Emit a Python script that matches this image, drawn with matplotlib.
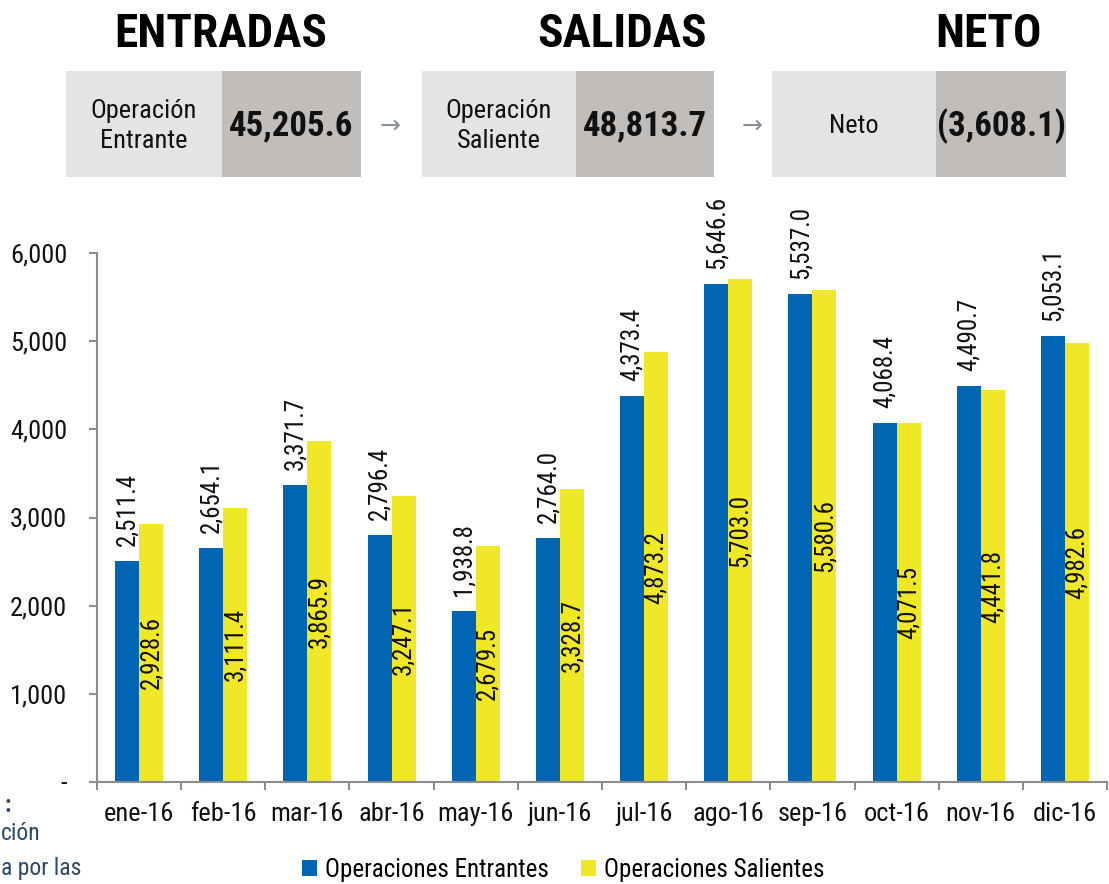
import matplotlib
matplotlib.use("Agg")
import matplotlib.pyplot as plt
from matplotlib.patches import Rectangle
from matplotlib import font_manager as fm
import numpy as np

_avail = set(f.name for f in fm.fontManager.ttflist)
_cands = ['Arial Narrow', 'Liberation Sans Narrow', 'Roboto Condensed', 'Archivo Narrow',
          'PT Sans Narrow', 'Asap Condensed', 'Liberation Sans']
FONT = next((c for c in _cands if c in _avail), 'DejaVu Sans')
plt.rcParams['font.family'] = [FONT, 'DejaVu Sans']

months = ['ene-16', 'feb-16', 'mar-16', 'abr-16', 'may-16', 'jun-16',
          'jul-16', 'ago-16', 'sep-16', 'oct-16', 'nov-16', 'dic-16']
entrantes = [2511.4, 2654.1, 3371.7, 2796.4, 1938.8, 2764.0,
             4373.4, 5646.6, 5537.0, 4068.4, 4490.7, 5053.1]
salientes = [2928.6, 3111.4, 3865.9, 3247.1, 2679.5, 3328.7,
             4873.2, 5703.0, 5580.6, 4071.5, 4441.8, 4982.6]
yticks = [0, 1000, 2000, 3000, 4000, 5000, 6000]
ytick_labels = ['-', '1,000', '2,000', '3,000', '4,000', '5,000', '6,000']

header_titles = ['ENTRADAS', 'SALIDAS', 'NETO']
header_labels = ['Operación\nEntrante', 'Operación\nSaliente', 'Neto']
header_values = ['45,205.6', '48,813.7', '(3,608.1)']
series_names = ['Operaciones Entrantes', 'Operaciones Salientes']

BLUE = '#0066B3'
YELLOW = '#F0E826'
LIGHT = '#E4E4E6'
DARK = '#C1BDBA'
AXC = '#8C8C8C'
PX = 72 / 100  # points per pixel at 100 dpi

W, H = 1109, 884
fig = plt.figure(figsize=(W / 100, H / 100), dpi=100)

# ---------- header ----------
hax = fig.add_axes([0, 0, 1, 1])
hax.set_xlim(0, W)
hax.set_ylim(H, 0)
hax.axis('off')
boxes = [(66, 222, 361), (422, 576, 714), (772, 936, 1066)]
title_x = [221, 622, 988]
for i, (x0, xm, x1) in enumerate(boxes):
    hax.add_patch(Rectangle((x0, 71), xm - x0, 106, facecolor=LIGHT, edgecolor='none'))
    hax.add_patch(Rectangle((xm, 71), x1 - xm, 106, facecolor=DARK, edgecolor='none'))
    hax.text(title_x[i], 34, header_titles[i], ha='center', va='center',
             fontsize=34, fontweight='bold', color='black')
    hax.text((x0 + xm) / 2, 126, header_labels[i], ha='center', va='center',
             fontsize=19, color='#111111', linespacing=1.3)
    hax.text((xm + x1) / 2, 126, header_values[i], ha='center', va='center',
             fontsize=25, fontweight='bold', color='#111111')
for ax_x in [390, 752]:
    hax.text(ax_x, 126, '→', ha='center', va='center', fontsize=18, color='#8A8F98',
             family=['DejaVu Sans'])

# note text (cut at the left edge in the reference)
note_c = '#2B4A6B'
hax.text(4, 805, ':', ha='left', va='center', fontsize=17, color=note_c, fontweight='bold')
hax.text(1, 834, 'ción', ha='left', va='center', fontsize=17, color=note_c)
hax.text(1, 868, 'a por las', ha='left', va='center', fontsize=17, color=note_c)

# ---------- bar chart ----------
ax = fig.add_axes([97 / W, 1 - 782 / H, (1107 - 97) / W, (782 - 253) / H])
x = np.arange(len(months))
bw = 0.285
ax.bar(x - bw / 2, entrantes, bw, color=BLUE, label=series_names[0])
ax.bar(x + bw / 2, salientes, bw, color=YELLOW, label=series_names[1])

for xi, v in zip(x, entrantes):
    ax.annotate(f'{v:,.1f}', (xi - bw / 2, v), xytext=(0, 15 * PX), textcoords='offset points',
                rotation=90, ha='center', va='bottom', fontsize=18, color='#111111',
                annotation_clip=False)
for xi, v in zip(x, salientes):
    ax.text(xi + bw / 2, v / 2, f'{v:,.1f}', rotation=90, ha='center', va='center',
            fontsize=18, color='#111111')

ax.set_xlim(-0.5, len(months) - 0.5)
ax.set_ylim(0, 6000)
ax.set_yticks(yticks)
ax.set_yticklabels(ytick_labels, fontsize=19, color='#111111')
ax.set_xticks(x)
ax.set_xticklabels(months, fontsize=19, color='#111111')
ax.set_xticks(np.arange(-0.5, len(months), 1.0), minor=True)
ax.tick_params(axis='x', which='major', length=0, pad=20 * PX)
ax.tick_params(axis='x', which='minor', length=8 * PX, width=1.5, color=AXC, direction='out')
ax.tick_params(axis='y', length=8 * PX, width=1.5, color=AXC, pad=22 * PX)
for s in ['top', 'right']:
    ax.spines[s].set_visible(False)
for s in ['left', 'bottom']:
    ax.spines[s].set_color(AXC)
    ax.spines[s].set_linewidth(1.5)

handles = [Rectangle((0, 0), 1, 1, facecolor=BLUE), Rectangle((0, 0), 1, 1, facecolor=YELLOW)]
fig.legend(handles, series_names, loc='center', bbox_to_anchor=(0.508, 1 - 870 / H),
           ncol=2, frameon=False, fontsize=18, handlelength=0.6, handleheight=0.6,
           handletextpad=0.3, columnspacing=1.3, borderaxespad=0)

fig.savefig('out.png', dpi=100)
